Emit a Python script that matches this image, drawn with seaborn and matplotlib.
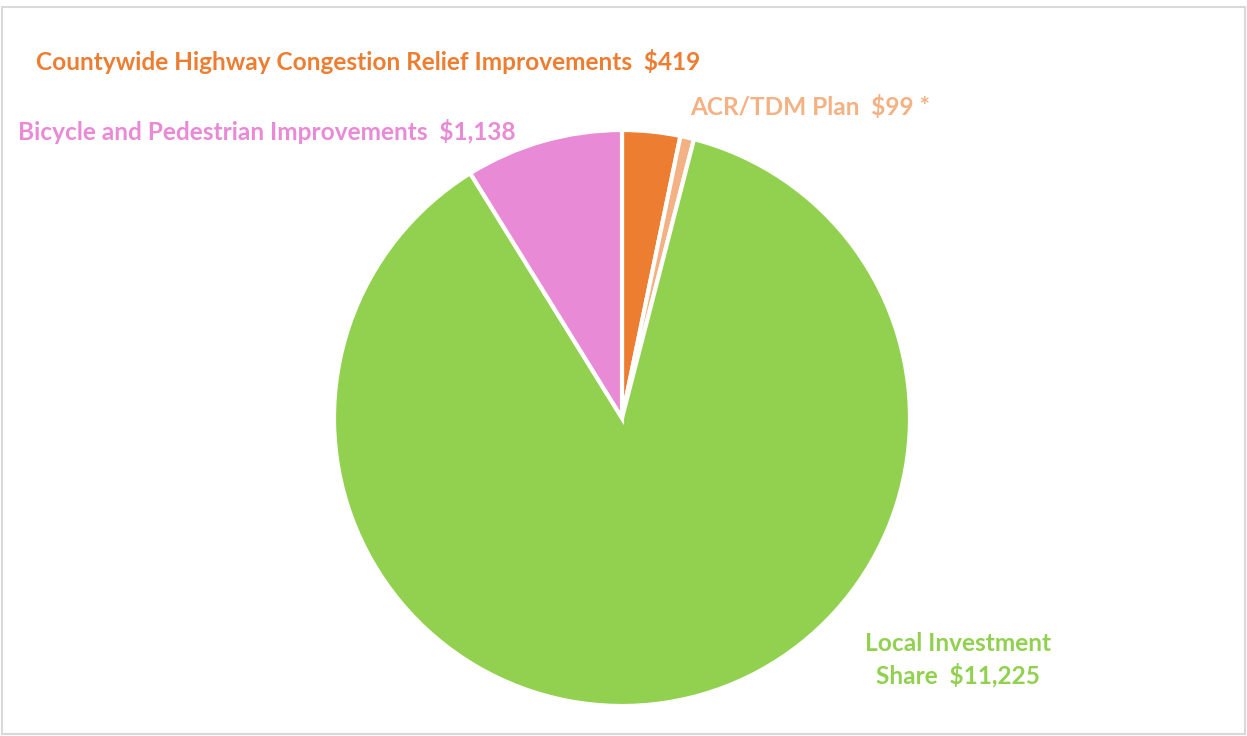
import matplotlib
matplotlib.use("Agg")
import matplotlib.pyplot as plt
import seaborn as sns
from matplotlib.patches import Rectangle

categories = ["Countywide Highway Congestion Relief Improvements",
              "ACR/TDM Plan", "Local Investment Share",
              "Bicycle and Pedestrian Improvements"]
values = [419, 99, 11225, 1138]
value_labels = ["$419", "$99 *", "$11,225", "$1,138"]
colors = ["#ED7D31", "#F4B183", "#92D050", "#E98AD6"]

sns.set_theme(style="white")
plt.rcParams['font.family'] = ['Lato', 'DejaVu Sans']

W, H = 1247, 736
fig = plt.figure(figsize=(W / 100, H / 100), dpi=100)
ax = fig.add_axes([0, 0, 1, 1])

ax.pie(values, colors=colors, startangle=90, counterclock=False,
       center=(622, H - 418), radius=288, frame=True,
       wedgeprops=dict(edgecolor="white", linewidth=3))
ax.set_xlim(0, W)
ax.set_ylim(0, H)
ax.set_aspect("equal")
ax.axis("off")

fs = 17.6
ax.text(36, H - 62, f"{categories[0]}  {value_labels[0]}", color=colors[0],
        fontsize=fs, fontweight="bold", ha="left", va="center")
ax.text(690, H - 107, f"{categories[1]}  {value_labels[1]}", color=colors[1],
        fontsize=fs, fontweight="bold", ha="left", va="center")
ax.text(18, H - 131, f"{categories[3]}  {value_labels[3]}", color=colors[3],
        fontsize=fs, fontweight="bold", ha="left", va="center")
ax.text(958, H - 660, "Local Investment\nShare  " + value_labels[2], color=colors[2],
        fontsize=fs, fontweight="bold", ha="center", va="center", linespacing=1.4)

fig.patches.append(Rectangle((2 / W, 2 / H), (W - 4) / W, (H - 9) / H,
                             transform=fig.transFigure, fill=False,
                             edgecolor="#D9D9D9", linewidth=1.5))

fig.savefig("out.png", dpi=100, facecolor="white")
